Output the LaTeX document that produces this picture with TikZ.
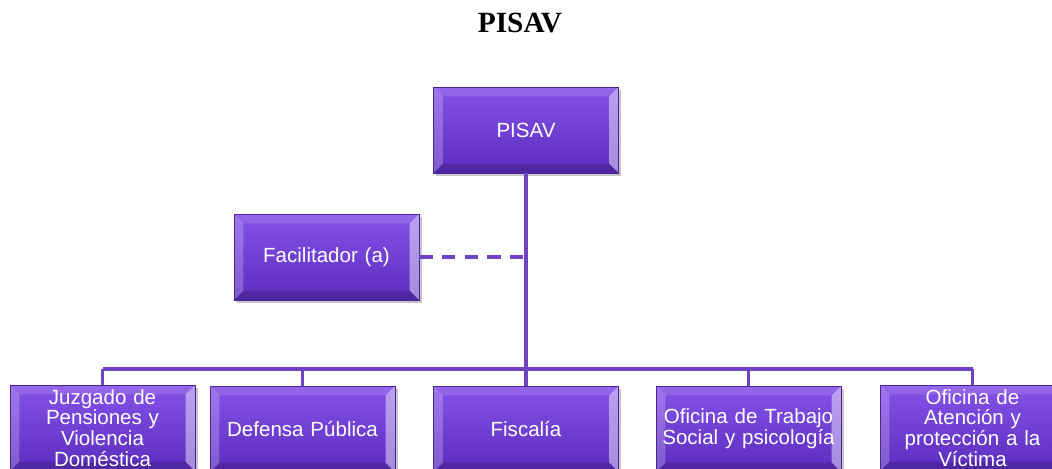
\documentclass[tikz,border=0pt]{standalone}
\usepackage{fontspec}
\setmainfont{Liberation Sans}
\newfontfamily\titlefont{Liberation Serif}
\usetikzlibrary{calc, shadows, positioning}

\definecolor{boxtop}{HTML}{8552E8}
\definecolor{boxbot}{HTML}{5B2DBE}
\definecolor{boxline}{HTML}{4A2498}
\definecolor{linkcol}{HTML}{6E44C4}

\tikzset{
    orgbox/.style={rectangle, draw=boxline, line width=0.6pt,
        top color=boxtop, bottom color=boxbot, text=white,
        minimum width=138.75pt, minimum height=64.5pt, inner sep=0pt,
        text width=132pt, align=center,
        font=\fontsize{15.4}{15.6}\selectfont,
        drop shadow={opacity=.45, shadow xshift=2pt, shadow yshift=-2pt},
        path picture={
            \fill[white, opacity=.22] (path picture bounding box.north west) -- ([xshift=7pt,yshift=-7pt]path picture bounding box.north west) -- ([xshift=7pt,yshift=7pt]path picture bounding box.south west) -- (path picture bounding box.south west) -- cycle;
            \fill[white, opacity=.45] (path picture bounding box.north east) -- ([xshift=-7pt,yshift=-7pt]path picture bounding box.north east) -- ([xshift=-7pt,yshift=7pt]path picture bounding box.south east) -- (path picture bounding box.south east) -- cycle;
            \fill[white, opacity=.12] (path picture bounding box.north west) -- ([xshift=7pt,yshift=-7pt]path picture bounding box.north west) -- ([xshift=-7pt,yshift=-7pt]path picture bounding box.north east) -- (path picture bounding box.north east) -- cycle;
            \fill[black, opacity=.15] (path picture bounding box.south west) -- ([xshift=7pt,yshift=7pt]path picture bounding box.south west) -- ([xshift=-7pt,yshift=7pt]path picture bounding box.south east) -- (path picture bounding box.south east) -- cycle;
        }},
    link/.style={draw=linkcol, line width=2.6pt},
    dashlink/.style={link, dash pattern=on 10pt off 7pt}
}

\begin{document}
\begin{tikzpicture}[x=0.75pt, y=-0.75pt]
    \useasboundingbox (0,0) rectangle (1052,468);

    % title
    \node[font=\titlefont\bfseries\fontsize{22}{24}\selectfont] (title) at (520,23) {PISAV};

    % boxes
    \node[orgbox] (pisav) at (526,130) {PISAV};
    \node[orgbox] (facil) at (326.5,257) {Facilitador (a)};

    \node[orgbox] (juzgado) at (102.5,428) {Juzgado de\\ Pensiones y\\ Violencia\\ Doméstica};
    \node[orgbox] (defensa) at (302.5,429) {Defensa Pública};
    \node[orgbox] (fiscalia) at (526,429) {Fiscalía};
    \node[orgbox] (oficina) at (748.5,429) {Oficina de Trabajo\\ Social y psicología};
    \node[orgbox] (victima) at (972.5,428) {Oficina de\\ Atención y\\ protección a la\\ Víctima};

    \coordinate (bus) at (526,369);

    % links
    \draw[dashlink] (facil.east) -- (facil.east -| pisav.south);
    \draw[link] (pisav.south) -- (bus);
    \draw[link] (juzgado.north |- bus) -- (victima.north |- bus);
    \foreach \n in {juzgado, defensa, fiscalia, oficina, victima}
        \draw[link] (\n.north |- bus) -- (\n.north);
\end{tikzpicture}
\end{document}
